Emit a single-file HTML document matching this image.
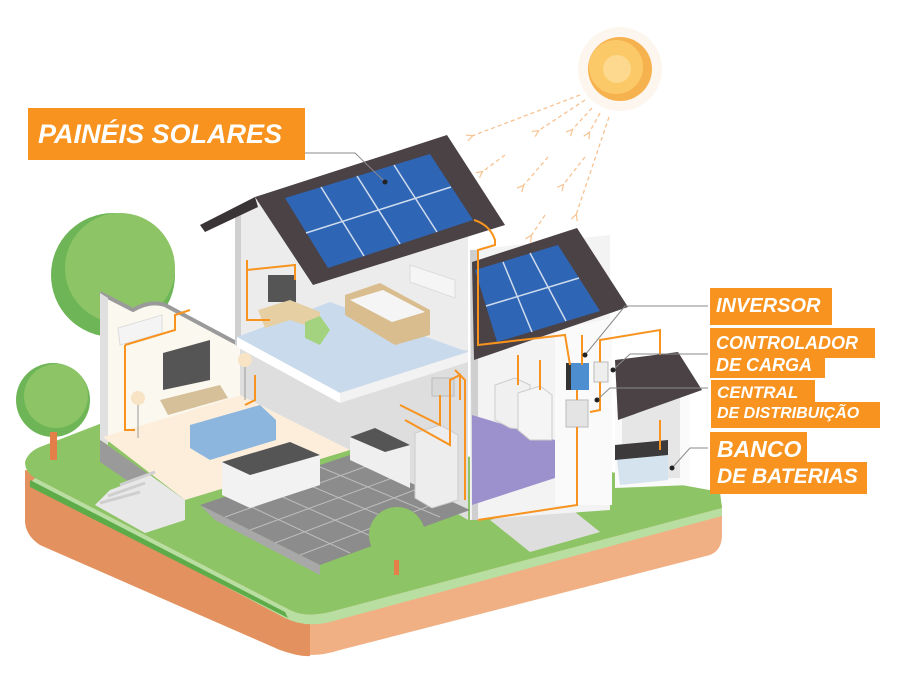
<!DOCTYPE html>
<html><head><meta charset="utf-8"><style>
body{margin:0;background:#fff;width:902px;height:693px;overflow:hidden;position:relative;font-family:"Liberation Sans",sans-serif}
.lb{position:absolute;background:#f7931e;color:#fff;font-weight:bold;font-style:italic;white-space:nowrap;line-height:1;overflow:hidden}
</style></head><body>
<svg width="902" height="693" viewBox="0 0 902 693" style="position:absolute;left:0;top:0">
<defs>
<marker id="ar" viewBox="0 0 10 10" refX="2" refY="5" markerWidth="6" markerHeight="6" orient="auto"><path d="M9,1 L1,5 L9,9" fill="none" stroke="#f8c290" stroke-width="1.5"/></marker>
</defs>
<circle cx="620" cy="69" r="42" fill="#fdf6ee"/>
<circle cx="620" cy="69" r="32" fill="#f6b24f"/>
<circle cx="616" cy="67" r="27" fill="#fbc967"/>
<circle cx="617" cy="69" r="14" fill="#fcd98e"/>
<g stroke="#f8c290" stroke-width="1.3" stroke-dasharray="4,3" fill="none" marker-end="url(#ar)">
<line x1="580" y1="95" x2="472" y2="136"/>
<line x1="585" y1="100" x2="538" y2="131"/>
<line x1="592" y1="108" x2="572" y2="130"/>
<line x1="600" y1="113" x2="589" y2="133"/>
<line x1="505" y1="155" x2="482" y2="172"/>
<line x1="548" y1="157" x2="523" y2="186"/>
<line x1="585" y1="157" x2="563" y2="185"/>
<line x1="609" y1="117" x2="576" y2="215"/>
<line x1="545" y1="215" x2="531" y2="236"/>
</g>
<path d="M25,470 L25,520 Q25,535 40,545 L280,650 Q310,660 340,650 L710,555 Q722,550 722,535 L722,505 Z" fill="#f0b083"/>
<path d="M25,470 L25,520 Q25,535 40,545 L280,650 Q300,657 310,656 L310,610 Z" fill="#e3925f"/>
<path d="M25,462 Q28,452 40,447 L110,420 L600,470 L720,492 L722,508 L330,612 Q305,618 290,610 L35,478 Q25,472 25,462 Z" fill="#8dc466"/>
<path d="M290,610 Q305,618 330,612 L722,508 L722,516 L330,622 Q305,628 285,618 L30,483 L35,478 Z" fill="#b9dea2"/>
<path d="M30,480 L285,612 L288,618 L30,487 Z" fill="#5eac49"/>
<path d="M490,520 L560,500 L600,532 L530,552 Z" fill="#dedede"/>
<circle cx="113" cy="275" r="62" fill="#6db556"/>
<circle cx="120" cy="268" r="55" fill="#8dc466"/>
<path d="M100,293 L133,310 Q150,300 165,305 L240,345 L240,470 L100,440 Z" fill="#fbf8ef"/>
<path d="M100,293 L133,310 Q150,300 165,305 L240,345" stroke="#9a9a9a" stroke-width="4" fill="none"/>
<path d="M100,293 L100,440 L108,445 L108,298 Z" fill="#e0e0e0"/>
<path d="M103,437 L265,388 L350,450 L185,500 Z" fill="#fdeedb"/>
<path d="M100,440 L185,500 L185,520 L100,462 Z" fill="#9a9a9a"/>
<path d="M110,490 L150,475 L185,500 L185,520 L145,533 L95,505 Z" fill="#e8e8e8"/>
<path d="M120,485 L155,472 M108,496 L145,483 M100,503 L140,492" stroke="#cfcfcf" stroke-width="3"/>
<path d="M235,215 L258,200 L445,140 L468,175 L468,350 L235,340 Z" fill="#ececec"/>
<rect x="235" y="215" width="6" height="130" fill="#d0d0d0"/>
<path d="M240,340 L468,350 L468,520 L350,450 L240,395 Z" fill="#dedede"/>
<path d="M237,337 L330,302 L468,352 L340,393 Z" fill="#c9daed"/>
<path d="M237,337 L340,393 L340,403 L237,347 Z" fill="#ffffff"/>
<path d="M340,393 L468,352 L468,362 L340,403 Z" fill="#f2f2f2"/>
<path d="M345,295 L380,283 L430,310 L430,335 L395,345 L345,315 Z" fill="#d9bd8f"/>
<path d="M350,300 L383,290 L425,312 L392,322 Z" fill="#f5f5f5"/>
<rect x="268" y="275" width="28" height="27" fill="#555"/>
<path d="M258,310 L290,300 L320,312 L320,330 L290,320 L265,328 Z" fill="#e6cfa3"/>
<path d="M305,322 L320,316 L330,330 L320,345 L305,338 Z" fill="#a4d37f"/>
<path d="M410,265 L455,280 L455,298 L410,282 Z" fill="#f5f5f5" stroke="#ddd"/>
<path d="M118,328 L162,315 L162,333 L120,345 Z" fill="#f4f4f4" stroke="#ddd"/>
<path d="M163,353 L210,340 L210,380 L163,390 Z" fill="#555"/>
<path d="M160,400 L220,385 L228,398 L168,415 Z" fill="#d6c09a"/>
<path d="M190,425 L260,405 L276,420 L276,440 L210,460 L190,448 Z" fill="#8db6de"/>
<circle cx="138" cy="398" r="7" fill="#f8e3c4"/><line x1="138" y1="405" x2="138" y2="438" stroke="#999"/>
<circle cx="245" cy="360" r="7" fill="#f8e3c4"/><line x1="245" y1="367" x2="245" y2="400" stroke="#999"/>
<path d="M200,505 L350,455 L470,510 L320,565 Z" fill="#8c8c8c"/>
<path d="M200,505 L320,565 L320,575 L215,520 Z" fill="#a8a8a8"/>
<path d="M225,517 L370,465 M250,530 L395,477 M275,543 L420,488 M300,555 L445,500 M230,497 L350,553 M260,487 L380,540 M290,477 L410,528 M320,467 L440,517" stroke="#bdbdbd" stroke-width="1"/>
<path d="M222,462 L290,442 L320,455 L320,485 L250,508 L222,495 Z" fill="#f2f2f2"/>
<path d="M222,462 L290,442 L320,455 L250,475 Z" fill="#555"/>
<path d="M350,437 L375,428 L410,445 L410,488 L350,460 Z" fill="#efefef"/>
<path d="M350,437 L375,428 L410,445 L385,452 Z" fill="#555"/>
<path d="M415,433 L440,425 L458,435 L458,500 L432,508 L415,498 Z" fill="#ededed" stroke="#ccc"/>
<rect x="432" y="378" width="22" height="18" fill="#d8d8d8" stroke="#bbb"/>
<path d="M470,250 L610,235 L610,510 L470,520 Z" fill="#f3f3f3"/>
<path d="M470,250 L472,520 L478,520 L478,250 Z" fill="#cfcfcf"/>
<path d="M472,415 L555,440 L555,478 L472,505 Z" fill="#9d91cd"/>
<path d="M555,330 L612,318 L612,505 L555,505 Z" fill="#fafafa"/>
<path d="M495,385 L515,378 L530,385 L530,430 L510,428 L495,420 Z" fill="#f0f0f0" stroke="#ccc"/>
<path d="M518,393 L540,386 L552,395 L552,440 L530,440 L518,430 Z" fill="#f5f5f5" stroke="#ccc"/>
<rect x="566" y="363" width="23" height="27" fill="#4d8ed1"/><rect x="566" y="363" width="5" height="27" fill="#333"/>
<rect x="594" y="362" width="14" height="20" fill="#eee" stroke="#bbb"/>
<rect x="566" y="400" width="22" height="27" fill="#e4e4e4" stroke="#bbb"/>
<path d="M615,405 L690,385 L690,485 L615,488 Z" fill="#fafafa"/>
<path d="M622,410 L680,395 L680,478 L622,480 Z" fill="#e6e6e6"/>
<path d="M615,445 L668,440 L668,480 L620,485 Z" fill="#d4e3ee"/>
<path d="M615,445 L668,440 L668,455 L615,460 Z" fill="#3d3a3c"/>
<path d="M615,360 L678,352 L702,390 L618,420 Z" fill="#4a4245"/>
<circle cx="397" cy="535" r="28" fill="#8dc466"/><rect x="394" y="560" width="5" height="15" fill="#e47f4a"/>
<circle cx="53" cy="400" r="37" fill="#6db556"/><circle cx="56" cy="396" r="32" fill="#8dc466"/>
<rect x="50" y="432" width="7" height="28" fill="#e47f4a"/>
<path d="M200,225 L255,197 L258,207 L205,232 Z" fill="#3a3436"/>
<path d="M255,197 L447,135 L505,225 L313,285 Z" fill="#4a4245"/>
<path d="M285,198 L430,154 L473,220 L328,268 Z" fill="#2f65b5"/>
<g stroke="#cfdcee" stroke-width="1.5"><line x1="321" y1="187" x2="364" y2="256"/><line x1="357" y1="176" x2="400" y2="244"/><line x1="394" y1="165" x2="437" y2="232"/><line x1="306" y1="233" x2="451" y2="187"/></g>
<path d="M472,262 L577,228 L628,307 L474,360 Z" fill="#4a4245"/>
<path d="M475,270 L558,245 L600,311 L497,342 Z" fill="#2f65b5"/>
<g stroke="#cfdcee" stroke-width="1.5"><line x1="503" y1="262" x2="532" y2="332"/><line x1="530" y1="253" x2="566" y2="321"/><line x1="486" y1="306" x2="579" y2="278"/></g>
<g stroke="#f7931e" stroke-width="2" fill="none">
<path d="M474,220 Q490,225 495,240 L495,245 Q485,248 478,250 L478,345 L565,335 L570,365"/>
<path d="M582,335 L582,365 M577,390 L577,400 M577,427 L577,505 L478,520"/>
<path d="M600,362 L600,340 L660,330 L660,355 M600,382 L600,410 L590,412"/>
<path d="M660,420 L660,450"/>
<path d="M247,260 L247,320 L270,320 M247,270 L295,265 L295,280"/>
<path d="M125,345 L125,430 L135,430 M125,345 L175,330 L175,315 L190,310"/>
<path d="M255,375 L255,400 L245,405"/>
<path d="M400,405 L440,425 L440,395 M405,420 L450,445 L450,380 L460,375 L460,400"/>
<path d="M455,370 L465,380 L465,500"/>
<path d="M518,355 L518,385 M540,360 L540,390"/>
</g>
<g stroke="#8a8a8a" stroke-width="1" fill="none">
<path d="M305,153 L355,153 L385,182"/>
<path d="M708,306 L625,306 L585,355"/>
<path d="M708,354 L630,354 L615,368"/>
<path d="M708,388 L610,388 L597,400"/>
<path d="M708,448 L690,448 L672,468"/>
</g>
<g fill="#222"><circle cx="385" cy="182" r="2.5"/><circle cx="585" cy="355" r="2.5"/><circle cx="613" cy="370" r="2.5"/><circle cx="597" cy="400" r="2.5"/><circle cx="672" cy="468" r="2.5"/></g>
</svg>
<div class="lb" style="left:28px;top:108px;width:277px;height:52px;font-size:27px;line-height:52px;padding-left:10px;box-sizing:border-box">PAINÉIS SOLARES</div>
<div class="lb" style="left:710px;top:288px;width:122px;height:37px;font-size:20px;line-height:37px;padding-left:6px;box-sizing:border-box">INVERSOR</div>
<div class="lb" style="left:710px;top:328px;width:165px;height:30px;font-size:18px;line-height:30px;padding-left:6px;box-sizing:border-box">CONTROLADOR</div>
<div class="lb" style="left:710px;top:356px;width:115px;height:22px;font-size:18px;line-height:18px;padding-left:6px;box-sizing:border-box">DE CARGA</div>
<div class="lb" style="left:711px;top:380px;width:104px;height:24px;font-size:17px;line-height:26px;padding-left:6px;box-sizing:border-box">CENTRAL</div>
<div class="lb" style="left:711px;top:402px;width:169px;height:26px;font-size:16px;line-height:24px;padding-left:6px;box-sizing:border-box">DE DISTRIBUIÇÃO</div>
<div class="lb" style="left:710px;top:432px;width:97px;height:32px;font-size:23px;line-height:34px;padding-left:7px;box-sizing:border-box">BANCO</div>
<div class="lb" style="left:710px;top:462px;width:157px;height:32px;font-size:21px;line-height:30px;padding-left:7px;box-sizing:border-box">DE BATERIAS</div>
</body></html>
